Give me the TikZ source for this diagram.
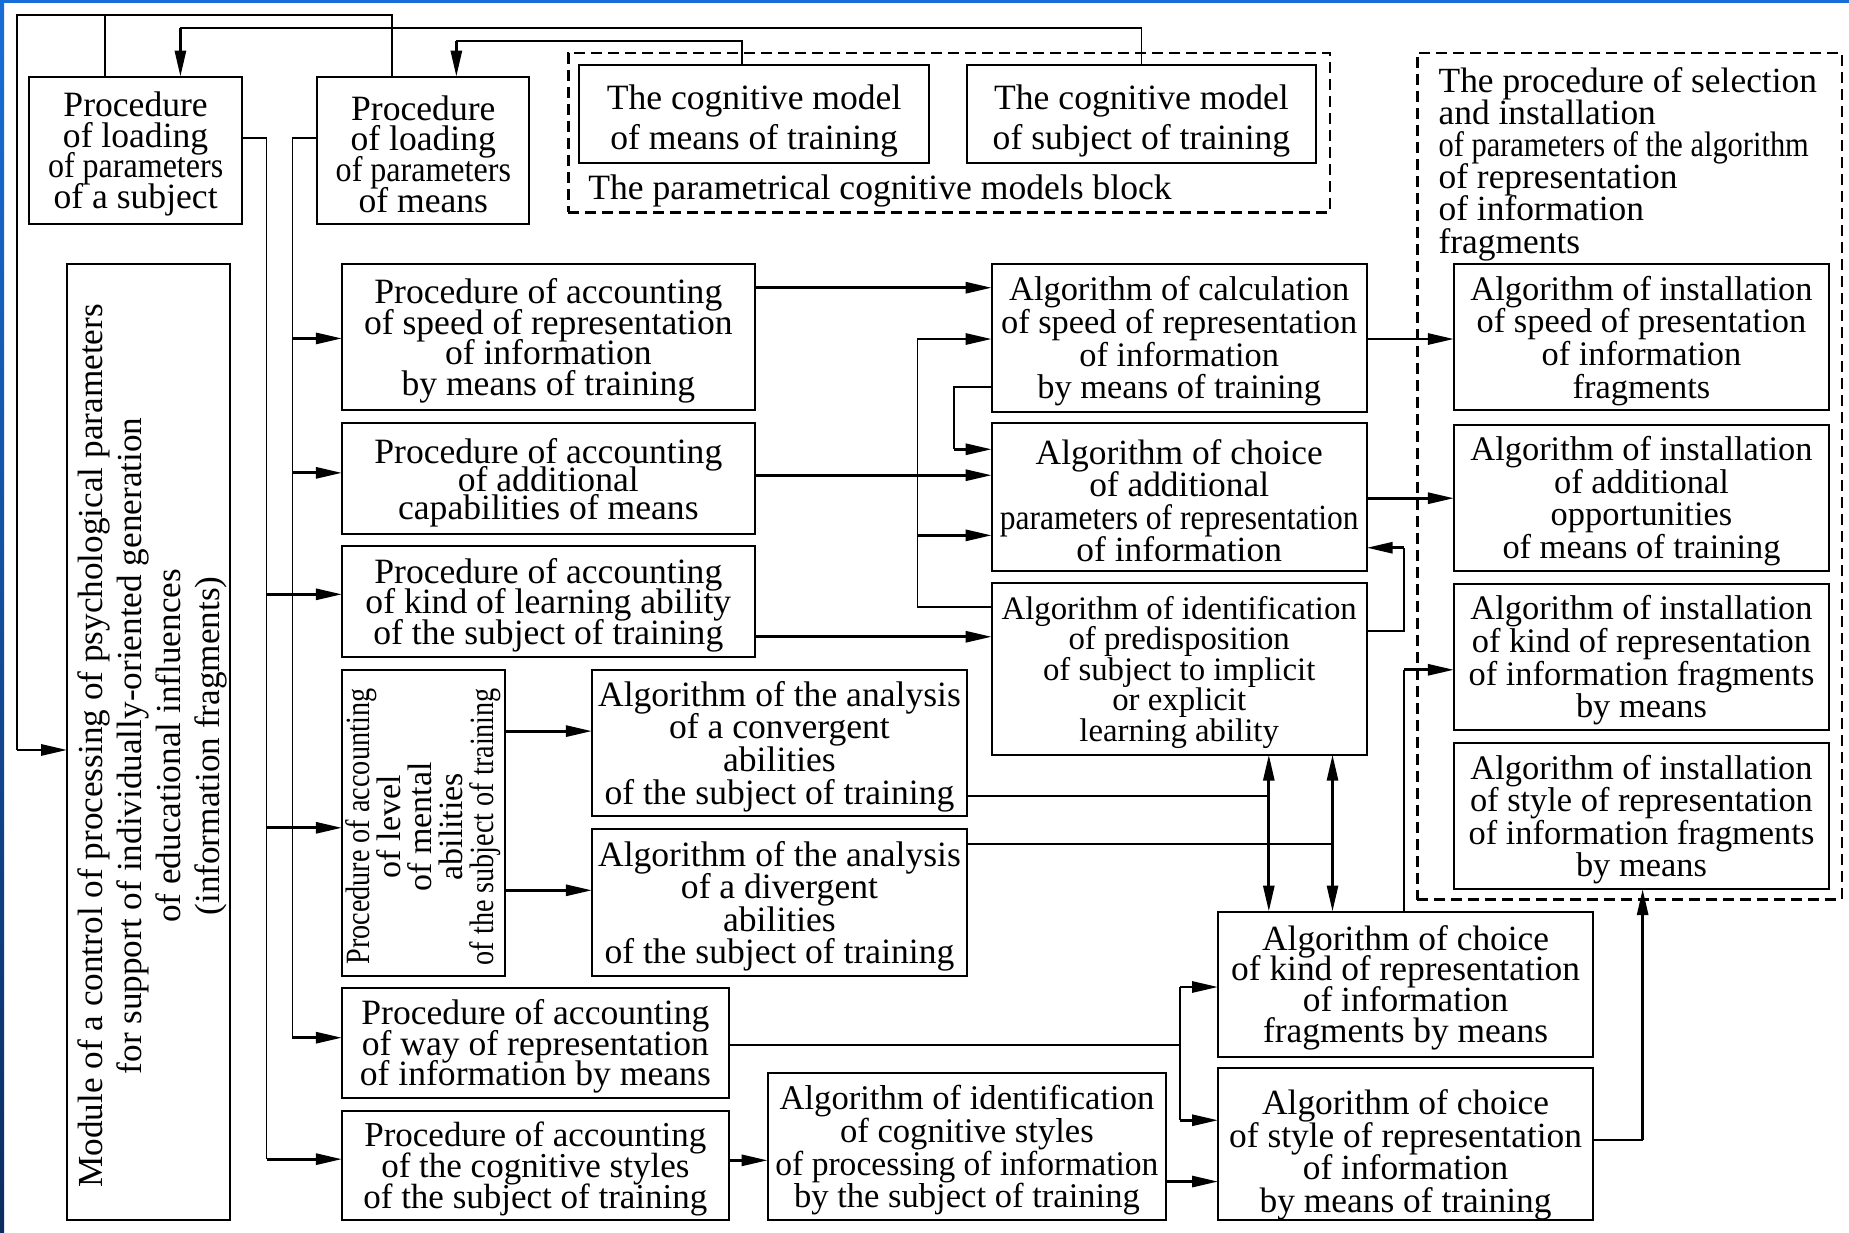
\documentclass[tikz,border=0pt]{standalone}
\usepackage{fontspec}
\setmainfont{Liberation Serif}
\usepackage{graphicx}
\usetikzlibrary{arrows.meta,fit}
\newcommand\fz[2]{\fontsize{#1}{#2}\selectfont\lineskiplimit=-100pt\relax}
\newcommand\bx[4]{\node[box,fit={#2}] (#1) {};\node[txt,#3] (#1t) at (#1) {#4};}
\definecolor{frtop}{RGB}{24,110,214}
\definecolor{frbot}{RGB}{12,44,96}
\begin{document}
\begin{tikzpicture}[x=0.5897pt,y=-0.5897pt,
 box/.style={draw, line width=1pt, inner sep=0pt, outer sep=0pt},
 txt/.style={inner sep=0pt, outer sep=0pt, align=center, yshift=-1.8pt},
 dsh/.style={draw, line width=1.3pt, dash pattern=on 5.5pt off 3pt, inner sep=0pt, outer sep=0pt},
 ln/.style={line width=0.9pt},
 arr/.style={line width=1.4pt, -{Triangle[length=13pt,width=5.5pt]}},
 dbl/.style={line width=1.4pt, {Triangle[length=13pt,width=5.5pt]}-{Triangle[length=13pt,width=5.5pt]}}]
\useasboundingbox (0,0) rectangle (1568,1045);
\fill[white] (0,0) rectangle (1568,1045);
\shade[top color=frtop, bottom color=frbot] (0,0) rectangle (3.6,1045);
\fill[frtop] (0,0) rectangle (1568,2.8);

% ---- top row
\bx{subj}{(25,65)(205,190)}{font=\fz{17.8}{15.3}}{Procedure\\of loading\\\scalebox{0.9}[1]{of parameters}\\of a subject}
\bx{means}{(269,65)(449,190)}{font=\fz{17.8}{15.3}}{Procedure\\of loading\\\scalebox{0.9}[1]{of parameters}\\of means}
\node[dsh,fit={(482,45)(1128,180)}] (blkL) {};
\bx{CMm}{(491,55)(788,138)}{font=\fz{17.8}{20},yshift=-1.8pt}{The cognitive model\\of means of training}
\bx{CMs}{(820,55)(1116,138)}{font=\fz{17.8}{20},yshift=-1.8pt}{The cognitive model\\of subject of training}
\node[txt,font=\fz{17.8}{15.3},anchor=base west,yshift=0pt] (blkLab) at (499,166) {The parametrical cognitive models block};

% ---- right block
\node[dsh,fit={(1202,45)(1562,763)}] (blkR) {};
\node[txt,font=\fz{17.7}{16.1},align=left,anchor=north west,yshift=0pt] (blkRT) at (1220,54) {The procedure of selection\\and installation\\\scalebox{0.86}[1]{of parameters of the algorithm}\\of representation\\of information\\fragments};
\bx{R1}{(1233,224)(1551,348)}{font=\fz{17.2}{16.3}}{Algorithm of installation\\of speed of presentation\\of information\\fragments}
\bx{R2}{(1233,360)(1551,484)}{font=\fz{17.2}{16.3}}{Algorithm of installation\\of additional\\opportunities\\of means of training}
\bx{R3}{(1233,495)(1551,619)}{font=\fz{17.2}{16.3}}{Algorithm of installation\\of kind of representation\\of information fragments\\by means}
\bx{R4}{(1233,630)(1551,754)}{font=\fz{17.2}{16.3}}{Algorithm of installation\\of style of representation\\of information fragments\\by means}

% ---- middle algorithms
\bx{A1}{(841,224)(1159,349)}{font=\fz{17.2}{16.3}}{Algorithm of calculation\\of speed of representation\\of information\\by means of training}
\bx{A2}{(841,359)(1159,484)}{font=\fz{17.7}{16.3}}{Algorithm of choice\\of additional\\\scalebox{0.89}[1]{parameters of representation}\\of information}
\bx{A3}{(841,494)(1159,640)}{font=\fz{16.4}{15.3}}{Algorithm of identification\\of predisposition\\of subject to implicit\\or explicit\\learning ability}

% ---- procedures
\bx{P1}{(290,224)(640,348)}{font=\fz{17.8}{15.3}}{Procedure of accounting\\of speed of representation\\of information\\by means of training}
\bx{P2}{(290,359)(640,453)}{font=\fz{17.8}{14}}{Procedure of accounting\\of additional\\capabilities of means}
\bx{P3}{(290,463)(640,557)}{font=\fz{17.8}{15.3}}{Procedure of accounting\\of kind of learning ability\\of the subject of training}
\node[box,fit={(290,568)(428,828)}] (P4) {};
\node[txt,font=\fz{17}{15.5},rotate=90,yshift=0pt] (P4t) at (359,698) {\scalebox{0.83}[1]{Procedure of accounting}\\of level\\of mental\\abilities\\\scalebox{0.83}[1]{of the subject of training}};
\bx{Conv}{(502,568)(820,692)}{font=\fz{17.8}{16.3}}{Algorithm of the analysis\\of a convergent\\abilities\\of the subject of training}
\bx{Div}{(502,703)(820,828)}{font=\fz{17.8}{16.3}}{Algorithm of the analysis\\of a divergent\\abilities\\of the subject of training}
\bx{P5}{(290,838)(618,931)}{font=\fz{17.8}{15.3}}{Procedure of accounting\\of way of representation\\of information by means}
\bx{P6}{(290,942)(618,1035)}{font=\fz{17.5}{15.5}}{Procedure of accounting\\of the cognitive styles\\of the subject of training}
\bx{IC}{(651,910)(989,1035)}{font=\fz{17.3}{16.3}}{Algorithm of identification\\of cognitive styles\\\scalebox{0.97}[1]{of processing of information}\\by the subject of training}
\bx{CK}{(1033,773)(1351,896)}{font=\fz{17.7}{15.3}}{Algorithm of choice\\of kind of representation\\of information\\fragments by means}
\bx{CS}{(1033,906)(1351,1035)}{font=\fz{17.7}{16.3},yshift=-3.4pt}{Algorithm of choice\\of style of representation\\of information\\by means of training}

% ---- module
\node[box,fit={(57,224)(195,1035)}] (module) {};
\node[txt,font=\fz{17.6}{19.5},rotate=90,yshift=0pt] (modulet) at (129,629.5) {Module of a control of processing of psychological parameters\\for support of individually-oriented generation\\of educational influences\\(information fragments)};

% ---- top bus
\coordinate (jA) at (89,13);
\coordinate (jB) at (332.5,13);
\coordinate (jL) at (14.5,13);
\coordinate (jM) at (14.5,636);
\draw[ln] (subj.north -| jA) -- (jA);
\draw[ln] (means.north -| jB) -- (jB) -- (jL) -- (jM);
\draw[arr] (jM) -- (module.west |- jM);
\coordinate (k1) at (968,24);
\coordinate (k2) at (153,24);
\draw[ln] (CMs.north -| k1) -- (k1) -- (k2);
\draw[arr] (k2) -- (subj.north -| k2);
\coordinate (m1) at (629,35);
\coordinate (m2) at (387,35);
\draw[ln] (CMm.north -| m1) -- (m1) -- (m2);
\draw[arr] (m2) -- (means.north -| m2);

% ---- subject bus
\coordinate (s0) at (226,117);
\coordinate (s3) at (226,504);
\coordinate (s4) at (226,702);
\coordinate (s6) at (226,983);
\draw[ln] (subj.east |- s0) -- (s0) -- (s6);
\draw[arr] (s3) -- (P3.west |- s3);
\draw[arr] (s4) -- (P4.west |- s4);
\draw[arr] (s6) -- (P6.west |- s6);
% ---- means bus
\coordinate (t0) at (248,117);
\coordinate (t1) at (248,287);
\coordinate (t2) at (248,401);
\coordinate (t5) at (248,880);
\draw[ln] (means.west |- t0) -- (t0) -- (t5);
\draw[arr] (t1) -- (P1.west |- t1);
\draw[arr] (t2) -- (P2.west |- t2);
\draw[arr] (t5) -- (P5.west |- t5);

% ---- straight arrows
\draw[arr] (P1.east |- 0,244) -- (A1.west |- 0,244);
\draw[arr] (P2.east |- 0,403) -- (A2.west |- 0,403);
\draw[arr] (P3.east |- 0,540) -- (A3.west |- 0,540);
\draw[arr] (A1.east |- 0,287.5) -- (R1.west |- 0,287.5);
\draw[arr] (A2.east |- 0,422.5) -- (R2.west |- 0,422.5);
\draw[arr] (P4.east |- 0,620) -- (Conv.west |- 0,620);
\draw[arr] (P4.east |- 0,755) -- (Div.west |- 0,755);
\draw[arr] (P6.east |- 0,984) -- (IC.west |- 0,984);
\draw[arr] (IC.east |- 0,1002) -- (CS.west |- 0,1002);

% ---- A3 feedback to A1, A2
\coordinate (u0) at (778,515);
\coordinate (u1) at (778,287.5);
\coordinate (u2) at (778,454);
\draw[ln] (A3.west |- u0) -- (u0) -- (u1);
\draw[arr] (u1) -- (A1.west |- u1);
\draw[arr] (u2) -- (A2.west |- u2);
\coordinate (v0) at (809,328);
\coordinate (v1) at (809,381);
\draw[ln] (A1.west |- v0) -- (v0) -- (v1);
\draw[arr] (v1) -- (A2.west |- v1);
\coordinate (w0) at (1190.5,535);
\coordinate (w1) at (1190.5,464.5);
\draw[ln] (A3.east |- w0) -- (w0) -- (w1);
\draw[arr] (w1) -- (A2.east |- w1);

% ---- to right block
\coordinate (x1) at (1190.5,568);
\draw[ln] (CK.north -| x1) -- (x1);
\draw[arr] (x1) -- (R3.west |- x1);
\coordinate (y1) at (1393,967);
\draw[ln] (CS.east |- y1) -- (y1);
\draw[arr] (y1) -- (R4.south -| y1);

% ---- convergent / divergent
\coordinate (z1) at (1076,675);
\coordinate (z2) at (1130,716);
\draw[ln] (Conv.east |- z1) -- (z1);
\draw[ln] (Div.east |- z2) -- (z2);
\draw[dbl] (CK.north -| z1) -- (A3.south -| z1);
\draw[dbl] (CK.north -| z2) -- (A3.south -| z2);

% ---- way of representation
\coordinate (q0) at (1001,886);
\coordinate (q1) at (1001,837);
\coordinate (q2) at (1001,950);
\draw[ln] (P5.east |- q0) -- (q0);
\draw[ln] (q1) -- (q2);
\draw[arr] (q1) -- (CK.west |- q1);
\draw[arr] (q2) -- (CS.west |- q2);
\end{tikzpicture}
\end{document}
